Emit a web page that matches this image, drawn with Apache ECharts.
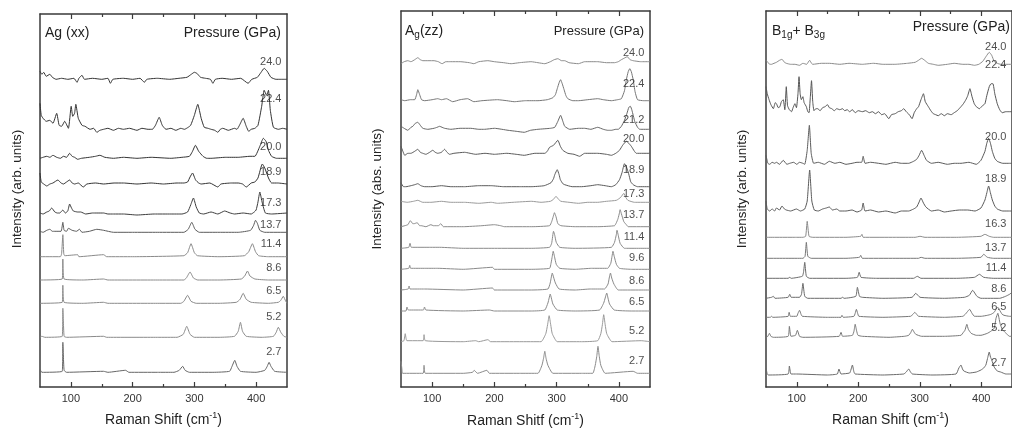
<!DOCTYPE html>
<html><head><meta charset="utf-8">
<script src="https://cdn.jsdelivr.net/npm/echarts@6/dist/echarts.min.js"></script>
<style>html,body{margin:0;padding:0;background:#fff}#c{width:1012px;height:435px}</style>
</head><body><div id="c"></div>
<script>
// ---------- axis ----------
const xMin = 50, xMax = 450;
const xMajorTicks = [100, 200, 300, 400];
const xMinorTicks = [150, 250, 350];

// ---------- Panel A: Ag (xx) ----------  [shift, intensity above own baseline] pairs
const xxPressures = ['24.0','22.4','20.0','18.9','17.3','13.7','11.4','8.6','6.5','5.2','2.7'];
const xxOffsets = [307.7, 257.7, 228.7, 203, 173, 154.7, 130.3, 107, 83.7, 49.7, 14.7];
const xxLabelY = [325.3, 288, 240, 215, 184, 162, 143, 118.7, 96.3, 70.3, 35.3];
const xx_240 = [50,8, 53,5, 56,7, 60,3, 66,5, 70,2, 76,0, 85,1, 95,0, 105,1, 110,-3, 113,1, 118,4, 122,0, 135,1, 150,0, 160,1, 164,-4, 168,0, 185,1, 200,0, 212,1, 219,-3, 223,0, 240,1, 260,0, 275,1, 288,2, 295,5, 300,7, 304,6, 310,2, 318,1, 326,0, 330,-4, 334,0, 345,1, 360,0, 375,1, 387,-4, 393,0, 402,2, 408,7, 413,11, 418,8, 424,2, 432,0, 440,0, 450,0];
const xx_224 = [50,26, 52,14, 55,11, 60,8, 66,9, 71,6, 77,16, 81,4, 85,3, 90,8, 96,1, 100.5,23, 103,13, 106,16, 108,25, 112,11, 118,4, 123,3, 131,0, 137,1, 142,-3, 147,-1, 153,0, 160,1, 169,-1, 177,1, 185,0, 195,1, 207,-1, 215,1, 225,0, 232,0, 237,4, 243,12, 248,4, 254,0, 262,1, 270,-1, 278,1, 284,0, 290,2, 294,4, 300,14, 305.5,25, 311,11, 316,2, 322,1, 327,0, 333,-1, 338,-3, 342,0, 346,1, 355,-1, 365,1, 369,0, 373,4, 379,11, 384,3, 388,-2, 392,0, 398,1, 403,4, 409,23, 413,39, 417,34, 420,39, 423,19, 428,2, 436,0, 443,1, 450,0];
const xx_200 = [50,0, 55,1, 61,2, 66,1, 71,3, 77,1, 83,0, 88,2, 93,1, 98,5, 102,2, 106,1, 111,-1, 117,0, 130,1, 140,2, 147,3, 155,1, 169,0, 185,1, 207,0, 230,1, 262,0, 280,1, 292,2, 297,7, 301.7,13, 307,7, 314,2, 320,0, 327,0, 350,1, 371,1, 390,2, 398,2, 406,12, 411.6,20, 416,17, 420,8, 425,2, 433,0, 450,0];
const xx_189 = [50,11, 52,2, 56,0, 61,-2, 66,0, 71,1, 79,4, 84,1, 88,0, 93,2, 98,4, 102,1, 106,0, 112,1, 120,-3, 126,0, 140,1, 153,0, 170,1, 185,1, 207,0, 230,1, 250,0, 272,1, 283,1, 289,2, 293,7, 297,11, 302,4, 307,1, 311,0, 325,1, 338,-3, 343,0, 360,1, 371,1, 378,0, 384,-3, 392,1, 398,2, 403,6, 410,20, 414,16, 420,6, 425,1, 435,1, 450,0];
const xx_173 = [50,1, 55,0, 61,2, 65,3, 69,6, 74,2, 78,1, 82,1, 87,4, 91,1, 95,3, 98,10, 101,6, 104,3, 111,2, 116,2, 124,0, 135,1, 142,1, 153,1, 160,0, 169,0, 185,0, 207,-1, 235,0, 262,0, 280,0, 289,2, 294,9, 298.5,16, 303,7, 308,1, 315,0, 327,2, 338,0, 349,3, 358,1, 365,0, 379,1, 392,0, 397,2, 400,4, 403,12, 406,22, 410,11, 415,1, 425,0, 450,1];
const xx_137 = [50,1, 55,0, 61,2, 66,3, 70,1, 74,1, 84,1, 87,10, 89,2, 93,1, 96,4, 102,2, 109,1, 114,3, 118,0, 130,1, 142,3, 153,2, 169,0, 200,0, 240,0, 283,0, 290,3, 295.8,10, 301,3, 308,0, 340,0, 371,0, 391,2, 396,7, 399,12, 402,9, 406,2, 414,0, 450,0];
const xx_114 = [50,0, 83,0, 85,3, 87,22, 88.5,3, 90,1, 111,2, 113,0, 153,2, 158,0, 200,0, 283,1, 289,4, 294.6,13, 300,4, 305,1, 340,0, 381,1, 388,5, 394,13, 399,5, 404,1, 420,0, 450,0];
const xx_86 = [50,0, 86,1, 87,21, 89,1, 120,0, 153,1, 160,0, 240,0, 283,0, 287,2, 293,8, 298.5,2, 305.5,0, 340,0, 376,1, 381.5,4, 386,9, 390,4, 398,1, 420,0, 450,0];
const xx_65 = [50,0, 86,1, 87,18, 89,1, 120,0, 153,1, 160,0, 240,0, 278,0, 283,2, 289,8, 294.6,2, 303,0, 340,0, 368,1, 374,4, 379,10, 384,4, 392,1, 420,0, 436,1, 440,3, 444,7, 448,2, 450,0];
const xx_52 = [50,0, 53,1, 58,0, 86,1, 87,29, 89,1, 93,0, 153,1, 158,0, 240,0, 272,0, 282,3, 287.6,11, 293,3, 300,0, 340,0, 365,1, 371,6, 374.6,15, 378,6, 384,1, 410,0, 428,1, 432.5,5, 436,10, 440,5, 445,1, 450,0];
const xx_27 = [50,3, 53,0, 86,1, 87,30, 89,2, 93,0, 153,1, 160,0, 188.6,2, 194,0, 240,0, 267,0, 275.5,2, 281,6, 285,2, 292,0, 330,0, 357,1, 361,6, 365.4,12, 369,6, 374.6,1, 400,0, 414,2, 418,6, 421,10, 424,6, 430,1, 450,0];
const xxSpectra = [xx_240, xx_224, xx_200, xx_189, xx_173, xx_137, xx_114, xx_86, xx_65, xx_52, xx_27];

// ---------- Panel B: Ag (zz) ----------
const zzPressures = ['24.0','22.4','21.2','20.0','18.9','17.3','13.7','11.4','9.6','8.6','6.5','5.2','2.7'];
const zzOffsets = [324.3, 286.3, 257.7, 233.7, 200.3, 184.7, 160.3, 138.7, 117.7, 97, 76, 45.3, 13.7];
const zzLabelY = [333.7, 302.7, 267, 247.7, 217, 193, 172, 149.7, 128.7, 106, 85.3, 56, 26];
const zz_240 = [50,-1, 55,1, 61,2, 66,1, 72,3, 77,5, 81,3, 85,2, 95,2, 103,2, 110,1, 116,-1, 122,1, 130,1, 145,1, 160,0, 167,-1, 175,1, 189.5,2, 200,1, 215,0, 227,-1, 240,0, 259,1, 270,0, 281,-1, 290,1, 296,3, 302,4, 308,2, 313,2, 320,0, 335,-1, 345,1, 366,1, 380,0, 393,0, 399,1, 404,3, 410,5, 413.5,6, 418,3, 423,2, 435,1, 450,1];
const zz_224 = [50,1, 56,0, 65,1, 72,1, 75,6, 77,11, 80,6, 83,1, 88,0, 100,1, 109,2, 115,1, 123,2, 133,-1, 145,1, 157,2, 167,-1, 180,0, 205,1, 220,0, 232,-1, 250,0, 270,0, 285,1, 294,3, 298,6, 301,12, 304,18, 306.4,21, 309,17, 312,11, 315,5, 318,2, 326,0, 335,0, 350,1, 366,2, 375,1, 388,0, 398,1, 404,2, 409,10, 412,21, 415,29, 417.5,32, 420,29, 423,21, 426,9, 430,1, 440,0, 450,0];
const zz_212 = [50,3, 55,1, 61,-1, 66,2, 69,3, 73,6, 77,7, 81,4, 85,1, 93,0, 103,1, 108,2, 112,3, 116,2, 120,1, 130,0, 145,1, 162,1, 175,0, 184,0, 200,1, 222,-1, 235,-2, 248,-3, 258,-1, 270,0, 290,1, 297,2, 302,8, 306.4,14, 310,8, 313,3, 321,0, 335,1, 345,1, 355,0, 366,2, 375,0, 382,-1, 388,-1, 395,0, 399,0, 404,3, 409,9, 413,16, 416,22, 418.5,23, 421,19, 425.5,8, 430,2, 433.5,0, 450,0];
const zz_200 = [50,7, 53,2, 56,-2, 61,0, 66,0, 72,2, 77,4, 81,1, 85,0, 90,-1, 96,1, 101,3, 105,1, 109,0, 115,1, 120,4, 124,1, 128,-1, 135,0, 152,1, 170,-1, 185,0, 200,-1, 220,0, 235,-1, 248,-2, 265,0, 281,0, 285,2, 288.7,6, 295,8, 302,13, 306,7, 310,3, 318,0, 328,-1, 337,-3, 345,0, 366,0, 380,-1, 388,-2, 395,0, 401,3, 406,8, 412,12, 416,10, 420,7, 425,2, 428,0, 450,0];
const zz_189 = [50,4, 54,0, 58,0, 66,1, 72,2, 77,3, 82,1, 88,0, 100,0, 115,1, 130,0, 152,0, 175,1, 195,1, 215,0, 240,0, 259,0, 280,1, 291,4, 295,8, 297,12, 301,17, 304,12, 306,7, 310,3, 313,2, 325,0, 340,0, 355,1, 366,2, 378,1, 388,0, 395,2, 401,7, 405,14, 409,23, 412,20, 415.7,13, 419,5, 423,2, 430,0, 450,0];
const zz_173 = [50,1, 60,0, 70,1, 77,2, 85,0, 98,0, 115,1, 130,0, 152,0, 175,-1, 195,0, 205,-1, 230,0, 260,1, 275,0, 290,1, 295,3, 299,6, 303,3, 307,1, 320,0, 335,-1, 350,0, 366,0, 380,1, 396,2, 403,5, 408,9, 411,5, 414.5,2, 425,0, 450,0];
const zz_137 = [50,0, 61,2, 65,6, 69,3, 71,3, 76,4, 80,1, 82.5,1, 90,0, 98,2, 102,1, 106,1, 110,1, 114,3, 118,0, 150,0, 180,1, 200,2, 210,1, 216,0, 260,0, 288.7,1, 292,5, 294.5,10, 296.5,14, 299,10, 302,3, 307,1, 330,0, 366,0, 393,1, 396,4, 398.6,8, 401,14, 402,17, 404,13, 408,5, 412,2, 415,0, 450,0];
const zz_114 = [50,0, 62.5,1, 64.5,5, 66.6,1, 98,1, 112,1, 150,0, 200,0, 260,0, 288.7,1, 292,5, 295,17, 297,13, 299.4,6, 305,1, 330,0, 388,1, 393,6, 396,14, 397,18, 399,13, 402,5, 409,0, 450,0];
const zz_96 = [50,0, 62.5,1, 64,4, 65.5,1, 90,1, 109,1, 150,0, 197,2, 200,0, 260,0, 288.7,1, 291,6, 293,13, 294.5,18, 296.5,13, 299.4,5, 305,1, 330,0, 356,1, 382,1, 387,6, 389,13, 390.5,18, 392.5,13, 396,5, 401,1, 420,0, 450,0];
const zz_86 = [50,0, 61.5,1, 63,4, 64.5,1, 88,1, 150,0, 197,2, 200,0, 260,0, 286,1, 289.7,7, 291.5,13, 293,17, 295,13, 298,7, 304,1, 330,0, 354,1, 377,1, 382.6,6, 384.5,12, 386.5,17, 388.5,12, 392,6, 399,0, 450,0];
const zz_65 = [50,0, 58,0, 59.6,4, 61.7,1, 86,1, 87.7,4, 90,1, 150,0, 192,1, 200,0, 260,0, 281,1, 286,8, 288,13, 289.7,17, 291.5,13, 294,7, 301,1, 330,0, 369,1, 375.6,8, 378,13, 380.5,18, 382.5,13, 385,7, 392.5,1, 420,0, 450,0];
const zz_52 = [50,0, 54.7,1, 56.8,8, 59.5,1, 85.5,1, 87,7, 89,1, 150,0, 170,1, 175,0, 189.5,2, 194,0, 240,0, 275,0, 282.6,8, 285.5,17, 288,26, 290.5,17, 293,8, 301,0, 340,0, 366,1, 371,8, 373.5,17, 375.6,27, 378,17, 380.5,8, 389,0, 436,1, 450,0];
const zz_27 = [50,12, 51.5,4, 52.5,0, 85.5,0, 87,8, 89,0, 150,0, 165,1, 167.5,3, 173,0, 188,3, 192,0, 240,0, 270,0, 276.4,8, 279,15, 281,22, 283,15, 286,8, 294,0, 340,0, 358,0, 362,8, 364.5,17, 366.4,27, 368.5,17, 371,8, 378,0, 423,2, 430,0, 450,0];
const zzSpectra = [zz_240, zz_224, zz_212, zz_200, zz_189, zz_173, zz_137, zz_114, zz_96, zz_86, zz_65, zz_52, zz_27];

// ---------- Panel C: B1g + B3g ----------
const bPressures = ['24.0','22.4','20.0','18.9','16.3','13.7','11.4','8.6','6.5','5.2','2.7'];
const bOffsets = [322.7, 275.3, 223.7, 176, 149.7, 128.7, 108.7, 88.7, 69.7, 49.7, 12];
const bLabelY = [339.7, 322, 250.3, 207.7, 163, 138.7, 118.7, 97.7, 79.7, 58.7, 24.3];
const b_240 = [50,4, 53,2, 56,0, 59,0, 63,1, 67,2, 72,4, 76,5, 80,2, 83,1, 90,0, 97,0, 104.5,-1, 110,1, 116,0, 121,4, 124,1, 126,0, 140,1, 153,1, 170,0, 185,1, 206.6,0, 225,1, 240,0, 260,0, 280,1, 292.5,2, 298,4, 303,6, 308,4, 314,1, 322,0, 330,-1, 345,0, 356,1, 370,0, 380,0, 389,-1, 396,0, 402.5,3, 408,8, 413,12, 417,9, 421,3, 426,1, 431.5,0, 450,0];
const b_224 = [50,25, 52,18, 55,12, 58,7, 62,3, 65,9, 67,8, 70,4, 72.6,5, 75,10, 78,12, 80.6,2, 83,25, 85,6, 88,2, 91.5,0, 94,4, 97,8, 99.5,4, 102,18, 103.7,35, 105.5,18, 107.5,12, 110,15, 112,9, 115.6,5, 118,0, 120,-1, 122,14, 124,31, 126,10, 128,1, 131,3, 134,3, 138,1, 142,4, 146,5, 150,7, 153,4, 157,3, 161,1, 165,3, 170,2, 174.5,3, 178,1, 182,2, 186,0, 190.5,2, 195,-1, 200,1, 206.6,0, 212,1, 218,-1, 223,0, 228,-2, 233,0, 238,-3, 243,-2, 249.6,-7, 254,-3, 260,-2, 265,0, 270,1, 274,3, 278,0, 283,-3, 287.5,-7, 291,-1, 295,3, 298,5, 302,12, 306,18, 309,10, 314,5, 318,1, 322,-2, 326,-3, 330,-4, 335,-2, 340,-4, 345,-2, 351,-3, 356,-1, 361,1, 364,3, 367,5, 371,8, 375,12, 378,16, 381.6,23, 385,15, 388.6,8, 392,5, 397,3, 402,6, 406,8, 409,16, 413,25, 416,28, 419,28, 422,18, 426,8, 430,2, 434,-1, 440,0, 446,0, 450,0];
const b_200 = [50,8, 53,0, 56,-1, 60,1, 64,0, 67,1, 72,-1, 78,3, 84,-1, 88.6,0, 95,1, 100,-1, 104.5,1, 110,0, 113,-1, 117,13, 120.5,38, 123.5,10, 127.5,0, 135,1, 145,-1, 153,2, 162,0, 170,1, 180,-1, 190,0, 198,1, 205.5,1, 208,7, 211,0, 220,1, 233,0, 245,-1, 260,1, 270,0, 282,0, 290,2, 295,4, 299,8, 303,13, 307,8, 311,3, 319,0, 330,1, 345,-1, 356,0, 367,0, 380,1, 392,-1, 399.5,3, 406,12, 409,20, 412,25, 415,20, 418,12, 422,5, 426,2, 435,0, 446,0, 450,0];
const b_189 = [50,10, 52,2, 56,0, 60,2, 64,0, 67,3, 72,1, 76,5, 80,2, 83,1, 90,0, 99.5,2, 106,0, 113,2, 117,10, 121,41, 124.5,10, 128.5,1, 135,0, 142,2, 148,3, 153,4, 158,1, 165,2, 170,0, 180,0, 190,1, 198,-1, 205.5,1, 208,8, 211,0, 220,1, 233,-1, 245,0, 260,-2, 270,0, 282,0, 290,2, 295,4, 299,9, 302,13, 306,8, 310,4, 319,0, 330,1, 340,-1, 351,0, 365,1, 378,1, 390,0, 399.5,3, 406,11, 409,18, 412,25, 415,18, 418,11, 422,5, 426,2, 435,0, 446,0, 450,0];
const b_163 = [50,0, 100,0, 110,0, 114.5,1, 117,16, 120,1, 126,0, 180,0, 204,1, 206,3, 208,0, 260,0, 292.5,0, 300.5,1, 308.5,0, 360,0, 399.5,1, 406,3, 413,1, 420,0, 450,0];
const b_137 = [50,0, 110,0, 113.5,2, 115.6,16, 118,2, 123.5,0, 180,0, 202,1, 204,3, 206.6,0, 260,0, 298,0, 302,1, 308.5,0, 360,0, 399.5,1, 404,4, 410,1, 420,0, 450,0];
const b_114 = [50,0, 86,0, 88.6,1, 91,0, 109,2, 111,6, 113,16, 115.6,2, 121,0, 180,0, 198.6,1, 201.5,6, 204.5,1, 230,0, 290,0, 296,2, 302,0, 360,0, 389,1, 397,4, 404,1, 420,0, 450,0];
const b_86 = [50,0, 59,1, 62,2, 64.6,0, 86,1, 88.6,4, 91,1, 104.5,1, 107.7,4, 110,15, 113,2, 118,0, 172,0, 174.5,1, 177,0, 196,2, 198.6,11, 202,2, 206.6,1, 240,0, 287.5,1, 293.5,5, 300.5,1, 340,0, 372.6,1, 380.6,3, 386,8, 393,2, 399.5,0, 430,0, 439.6,2, 446,4, 450,6];
const b_65 = [50,0, 57,0, 59,1, 61,0, 86,1, 87.6,5, 89.6,1, 100,1, 102,4, 104.5,7, 107,3, 109,1, 150,0, 172,0, 173.5,2, 175.6,0, 193,1, 195,4, 197,8, 199,4, 201,1, 240,0, 285,1, 289,3, 292,5, 295,3, 298,1, 340,0, 370,1, 374,3, 378,6, 381,8, 385,4, 389,1, 400,1, 410,2, 416,3, 421,5, 424,8, 427,10, 430,7, 434,3, 437,2, 446,1, 450,1];
const b_52 = [50,0, 53,1, 55.6,4, 58,1, 62,0, 86,1, 88,11, 90.6,1, 98,2, 101,7, 104.5,1, 110,0, 169,1, 172,5, 174.5,1, 190.5,2, 193,6, 195,13, 197.5,6, 199.6,2, 206.6,1, 250,0, 275,1, 282,2, 285.6,5, 288,8, 291,5, 293.5,3, 303,1, 340,1, 367,2, 371,5, 373.5,7, 376.6,13, 379,8, 383.6,4, 392,2, 399.5,2, 410,4, 415.5,6, 421,9, 424,19, 427,24, 430.5,14, 434,8, 437,6, 442,3, 446,1, 450,1];
const b_27 = [50,7, 52,1, 54,0, 86,1, 88,9, 90.6,1, 99.5,1, 150,0, 166,1, 168.6,6, 172,1, 186,2, 188,5, 190.5,10, 193,3, 195,1, 240,0, 274,1, 278,3, 282,6, 285,3, 288,1, 320,0, 359,1, 363.6,7, 367,10, 369.5,6, 371.6,4, 380.6,2, 392,3, 399.5,5, 404,7, 407.5,10, 410,16, 413,23, 415,18, 417,15, 421,8, 426,4, 431.5,3, 440,1, 446,1, 450,1];
const bSpectra = [b_240, b_224, b_200, b_189, b_163, b_137, b_114, b_86, b_65, b_52, b_27];

// ---------- styles / layout ----------
const FONT = 'Liberation Sans, Arial, Helvetica, sans-serif';
const frameColor = '#3a3a3a';
const xxColors = ['#333','#333','#333','#333','#3c3c3c','#5a5a5a','#8a8a8a','#8a8a8a','#8a8a8a','#8a8a8a','#666'];
const zzColors = ['#8a8a8a','#777','#666','#5a5a5a','#5a5a5a','#9a9a9a','#8a8a8a','#8a8a8a','#8a8a8a','#8a8a8a','#8a8a8a','#999','#8a8a8a'];
const bColors = ['#8a8a8a','#555','#5a5a5a','#5a5a5a','#8a8a8a','#777','#6a6a6a','#6a6a6a','#777','#777','#6a6a6a'];
const panels = [
  {grid:{left:40, top:14, width:247, height:373}, H:373, spectra:xxSpectra, offsets:xxOffsets, labels:xxPressures, labelY:xxLabelY, colors:xxColors},
  {grid:{left:401, top:11, width:249, height:376}, H:376, spectra:zzSpectra, offsets:zzOffsets, labels:zzPressures, labelY:zzLabelY, colors:zzColors},
  {grid:{left:766, top:11, width:249, height:376}, H:376, spectra:bSpectra, offsets:bOffsets, labels:bPressures, labelY:bLabelY, colors:bColors}
];
const labelX = 441;

function toPoints(arr, off){ const out=[]; for(let i=0;i<arr.length;i+=2) out.push([arr[i], arr[i+1]+off]); return out; }

const grid=[], xAxis=[], yAxis=[], series=[];
panels.forEach((p, gi) => {
  grid.push(Object.assign({containLabel:false}, p.grid));
  const lineStyle = {color: frameColor, width: 1.5};
  const base = {gridIndex: gi, type:'value', min:xMin, max:xMax, splitLine:{show:false}};
  xAxis.push(Object.assign({}, base, {position:'bottom', axisLine:{show:true, lineStyle},
    axisTick:{show:true, inside:true, length:5, customValues:xMajorTicks, lineStyle:{color:frameColor, width:1.2}},
    axisLabel:{show:true, customValues:xMajorTicks, margin:6, color:'#333', fontSize:11, fontFamily:FONT}}));
  xAxis.push(Object.assign({}, base, {position:'bottom', axisLine:{show:false},
    axisTick:{show:true, inside:true, length:3, customValues:xMinorTicks, lineStyle:{color:frameColor, width:1.2}},
    axisLabel:{show:false}}));
  xAxis.push(Object.assign({}, base, {position:'top', axisLine:{show:true, lineStyle},
    axisTick:{show:true, inside:true, length:5, customValues:xMajorTicks, lineStyle:{color:frameColor, width:1.2}},
    axisLabel:{show:false}}));
  xAxis.push(Object.assign({}, base, {position:'top', axisLine:{show:false},
    axisTick:{show:true, inside:true, length:3, customValues:xMinorTicks, lineStyle:{color:frameColor, width:1.2}},
    axisLabel:{show:false}}));
  const ybase = {gridIndex: gi, type:'value', min:0, max:p.H, splitLine:{show:false}, axisTick:{show:false}, axisLabel:{show:false}};
  yAxis.push(Object.assign({}, ybase, {position:'left', axisLine:{show:true, onZero:false, lineStyle}}));
  yAxis.push(Object.assign({}, ybase, {position:'right', axisLine:{show:true, onZero:false, lineStyle}}));
  p.spectra.forEach((s, si) => {
    series.push({type:'line', xAxisIndex:gi*4, yAxisIndex:gi*2, data:toPoints(s, p.offsets[si]),
      showSymbol:false, symbol:'none', smooth:0.15, silent:true, animation:false,
      lineStyle:{color:p.colors[si], width:1}, z:2});
  });
  series.push({type:'scatter', xAxisIndex:gi*4, yAxisIndex:gi*2, symbolSize:0, silent:true, animation:false, z:5,
    data:p.labels.map((t, i) => ({value:[labelX, p.labelY[i]], name:t})),
    label:{show:true, position:[0,0], align:'right', verticalAlign:'middle', formatter:'{b}',
      color:'#222', fontSize:11, fontFamily:FONT}});
});

function txt(x, y, text, opts){
  return Object.assign({type:'text', x, y, z:10, silent:true,
    style:Object.assign({text, fill:'#222', fontSize:14, fontFamily:FONT, textVerticalAlign:'middle', textAlign:'left'}, opts||{})});
}
const supRich = {sup:{fontSize:9, fontFamily:FONT, fill:'#222', verticalAlign:'top', lineHeight:9}, n:{fontSize:14, fontFamily:FONT, fill:'#222', lineHeight:18}};
const subRich = {sub:{fontSize:10, fontFamily:FONT, fill:'#222', verticalAlign:'bottom', lineHeight:10}, n:{fontSize:14, fontFamily:FONT, fill:'#222', lineHeight:18}};

const graphic = [
  // panel A
  txt(45, 33, 'Ag (xx)'),
  txt(281, 33, 'Pressure (GPa)', {textAlign:'right'}),
  Object.assign(txt(17, 189, 'Intensity (arb. units)', {textAlign:'center', fontSize:13.5}), {rotation:Math.PI/2}),
  txt(163.5, 420, '{n|Raman Shift (cm}{sup|-1}{n|)}', {textAlign:'center', rich:supRich}),
  // panel B
  txt(405, 31, '{n|A}{sub|g}{n|(zz)}', {rich:subRich}),
  txt(644, 31, 'Pressure (GPa)', {textAlign:'right', fontSize:13}),
  Object.assign(txt(377, 189, 'Intensity (abs. units)', {textAlign:'center', fontSize:13.5}), {rotation:Math.PI/2}),
  txt(525.5, 421, '{n|Raman Shitf (cm}{sup|-1}{n|)}', {textAlign:'center', rich:supRich}),
  // panel C
  txt(772, 31, '{n|B}{sub|1g}{n|+ B}{sub|3g}', {rich:subRich}),
  txt(1010, 27, 'Pressure (GPa)', {textAlign:'right'}),
  Object.assign(txt(742, 189, 'Intensity (arb. units)', {textAlign:'center', fontSize:13.5}), {rotation:Math.PI/2}),
  txt(890.5, 420, '{n|Raman Shift (cm}{sup|-1}{n|)}', {textAlign:'center', rich:supRich})
];

const chart = echarts.init(document.getElementById('c'), null, {renderer:'canvas'});
chart.setOption({animation:false, backgroundColor:'#fff', grid, xAxis, yAxis, series, graphic});
</script></body></html>
